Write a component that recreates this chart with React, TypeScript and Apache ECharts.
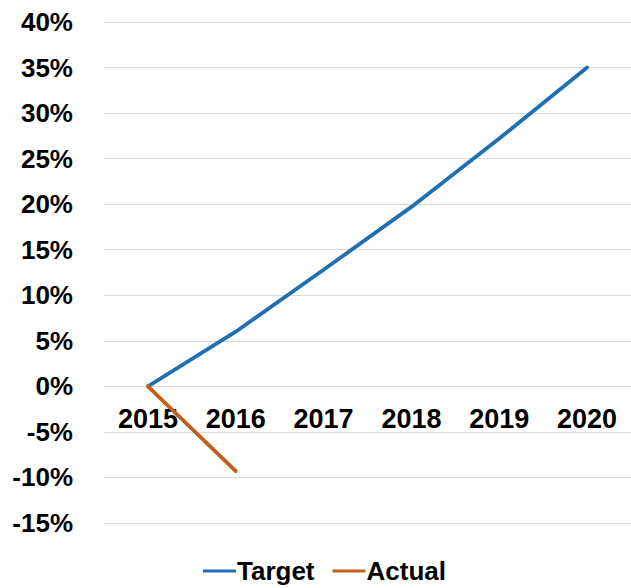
import React, { useEffect, useRef } from "react";
import * as echarts from "echarts";

const years = ["2015", "2016", "2017", "2018", "2019", "2020"];
const targetValues = [0, 6, 12.8, 19.7, 27.2, 35];
const actualValues = [0, -9.3];
const yMin = -15;
const yMax = 40;
const yStep = 5;

export default function App() {
  const ref = useRef<HTMLDivElement>(null);
  useEffect(() => {
    document.body.style.margin = "0";
    const chart = echarts.init(ref.current!, null, { renderer: "svg" });
    const font = "'Liberation Sans', Arial, sans-serif";
    const gridHeight = 501;
    const zeroOffset = -(gridHeight * (0 - yMin)) / (yMax - yMin);
    chart.setOption({
      animation: false,
      backgroundColor: "#ffffff",
      grid: { left: 104, top: 22, width: 533, height: gridHeight, containLabel: false },
      legend: {
        top: 553,
        left: 198,
        icon: "rect",
        itemWidth: 33,
        itemHeight: 3,
        itemGap: 18,
        textStyle: { fontFamily: font, fontWeight: "bold", fontSize: 26, color: "#000", padding: [0, 0, 0, -4] },
        data: ["Target", "Actual"],
      },
      xAxis: {
        type: "category",
        data: years,
        boundaryGap: true,
        offset: zeroOffset,
        axisLine: { show: false },
        axisTick: { show: false },
        axisLabel: { margin: 19, fontFamily: font, fontWeight: "bold", fontSize: 27, color: "#000" },
        splitLine: { show: false },
      },
      yAxis: {
        type: "value",
        min: yMin,
        max: yMax,
        interval: yStep,
        axisLine: { show: false },
        axisTick: { show: false },
        axisLabel: { margin: 31, formatter: "{value}%", fontFamily: font, fontWeight: "bold", fontSize: 26, color: "#000" },
        splitLine: { show: true, lineStyle: { color: "#d9d9d9", width: 1 } },
      },
      series: [
        {
          name: "Target",
          type: "line",
          data: targetValues,
          showSymbol: false,
          symbol: "none",
          lineStyle: { color: "#1f70b2", width: 3.8, cap: "round" },
          itemStyle: { color: "#1f70b2" },
        },
        {
          name: "Actual",
          type: "line",
          data: actualValues,
          showSymbol: false,
          symbol: "none",
          lineStyle: { color: "#c0601a", width: 3.8, cap: "round" },
          itemStyle: { color: "#c0601a" },
        },
      ],
    });
    return () => chart.dispose();
  }, []);
  return <div ref={ref} style={{ width: 631, height: 588 }} />;
}
